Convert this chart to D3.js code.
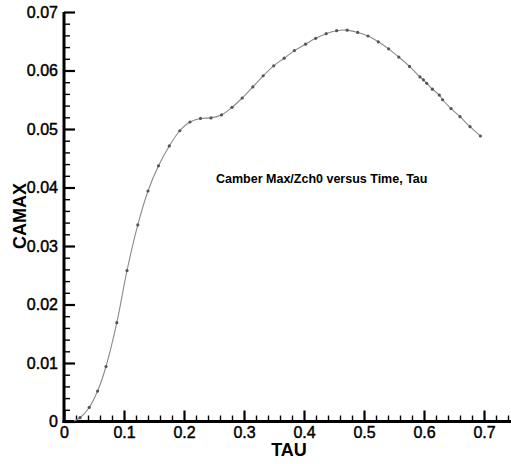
<!DOCTYPE html>
<html>
<head>
<meta charset="utf-8">
<script src="https://cdn.jsdelivr.net/npm/d3@7/dist/d3.min.js"></script>
<style>
  html, body { margin: 0; padding: 0; background: #fff; }
  svg { display: block; font-family: "Liberation Sans", Arial, sans-serif; }
</style>
</head>
<body>
<svg id="chart" width="511" height="464"></svg>
<script>
// ---- data ----
const tau = [0.0167, 0.0267, 0.042, 0.056, 0.070, 0.088, 0.105, 0.123, 0.140, 0.1575,
  0.1755, 0.193, 0.210, 0.2275, 0.245, 0.2625, 0.280, 0.297, 0.3147, 0.332,
  0.3495, 0.367, 0.384, 0.4025, 0.4195, 0.437, 0.4545, 0.472, 0.4895, 0.5067,
  0.5238, 0.541, 0.558, 0.5758, 0.5933, 0.599, 0.6045, 0.614, 0.6255, 0.631,
  0.645, 0.660, 0.6767, 0.694];
const camax = [0.0001, 0.00065, 0.0024, 0.0052, 0.0094, 0.0169, 0.0258, 0.0336, 0.0394, 0.0437,
  0.0471, 0.0497, 0.0512, 0.0518, 0.0519, 0.0524, 0.0537, 0.0553, 0.0572, 0.0591,
  0.0608, 0.0621, 0.0634, 0.0645, 0.0655, 0.0663, 0.0668, 0.0669, 0.0665, 0.0659,
  0.0649, 0.0637, 0.0623, 0.0607, 0.0589, 0.0584, 0.0578, 0.0568, 0.0558, 0.0550,
  0.0535, 0.0521, 0.0504, 0.0488];
const xMajorTicks = [0, 0.1, 0.2, 0.3, 0.4, 0.5, 0.6, 0.7];
const xTickLabels = ["0", "0.1", "0.2", "0.3", "0.4", "0.5", "0.6", "0.7"];
const yMajorTicks = [0, 0.01, 0.02, 0.03, 0.04, 0.05, 0.06, 0.07];
const yTickLabels = ["0", "0.01", "0.02", "0.03", "0.04", "0.05", "0.06", "0.07"];
const xTitle = "TAU";
const yTitle = "CAMAX";
const annotation = "Camber Max/Zch0 versus Time, Tau";

// ---- layout ----
const svg = d3.select("#chart");
const x = d3.scaleLinear().domain([0, 0.75]).range([64, 514]);
const y = d3.scaleLinear().domain([0, 0.07]).range([421.5, 12]);

const xMinor = d3.range(0, 0.751, 0.02).filter(v => Math.abs(v * 10 - Math.round(v * 10)) > 1e-6);
const yMinor = d3.range(0, 0.0701, 0.002).filter(v => Math.abs(v * 100 - Math.round(v * 100)) > 1e-6);

// minor ticks
svg.append("g").attr("transform", `translate(0,${y(0)})`)
  .call(d3.axisBottom(x).tickValues(xMinor).tickSize(-6).tickSizeOuter(0).tickFormat(""))
  .call(g => g.select(".domain").remove())
  .call(g => g.selectAll("line").attr("stroke", "#000").attr("stroke-width", 1.4));
svg.append("g").attr("transform", `translate(${x(0)},0)`)
  .call(d3.axisLeft(y).tickValues(yMinor).tickSize(-6).tickSizeOuter(0).tickFormat(""))
  .call(g => g.select(".domain").remove())
  .call(g => g.selectAll("line").attr("stroke", "#000").attr("stroke-width", 1.4));

// major axes
const xAxis = svg.append("g").attr("transform", `translate(0,${y(0)})`)
  .call(d3.axisBottom(x).tickValues(xMajorTicks).tickSize(-11).tickSizeOuter(0).tickPadding(5)
    .tickFormat((d, i) => xTickLabels[i]));
const yAxis = svg.append("g").attr("transform", `translate(${x(0)},0)`)
  .call(d3.axisLeft(y).tickValues(yMajorTicks).tickSize(-11).tickSizeOuter(0).tickPadding(6)
    .tickFormat((d, i) => yTickLabels[i]));
[xAxis, yAxis].forEach(g => {
  g.select(".domain").attr("stroke", "#000").attr("stroke-width", 3);
  g.selectAll(".tick line").attr("stroke", "#000").attr("stroke-width", 2.2);
  g.selectAll(".tick text").attr("fill", "#000").attr("stroke", "#000").attr("stroke-width", 0.45)
    .style("font-size", "16px").style("font-family", "'Liberation Sans', Arial, sans-serif");
});
xAxis.select(".domain").attr("d", `M${x(0) - 1.5},0H${x(0.75)}`);
yAxis.select(".domain").attr("d", `M0,${y(0.07)}V${y(0) + 1.5}`);

// curve
const pts = tau.map((t, i) => [t, camax[i]]);
svg.append("path").datum(pts)
  .attr("fill", "none").attr("stroke", "#8a8a8a").attr("stroke-width", 1.1)
  .attr("d", d3.line().x(d => x(d[0])).y(d => y(d[1])).curve(d3.curveCatmullRom.alpha(0.5)));
svg.append("g").selectAll("circle").data(pts.slice(1)).join("circle")
  .attr("cx", d => x(d[0])).attr("cy", d => y(d[1])).attr("r", 1.6)
  .attr("fill", "#555");

// titles
svg.append("text").attr("x", 289).attr("y", 456).attr("text-anchor", "middle")
  .style("font-size", "18px").style("font-weight", "bold").text(xTitle);
svg.append("text").attr("transform", "translate(26,216) rotate(-90)").attr("text-anchor", "middle")
  .style("font-size", "18px").style("font-weight", "bold").text(yTitle);
svg.append("text").attr("x", 216).attr("y", 183)
  .style("font-size", "12.5px").style("font-weight", "bold").text(annotation);
</script>
</body>
</html>
